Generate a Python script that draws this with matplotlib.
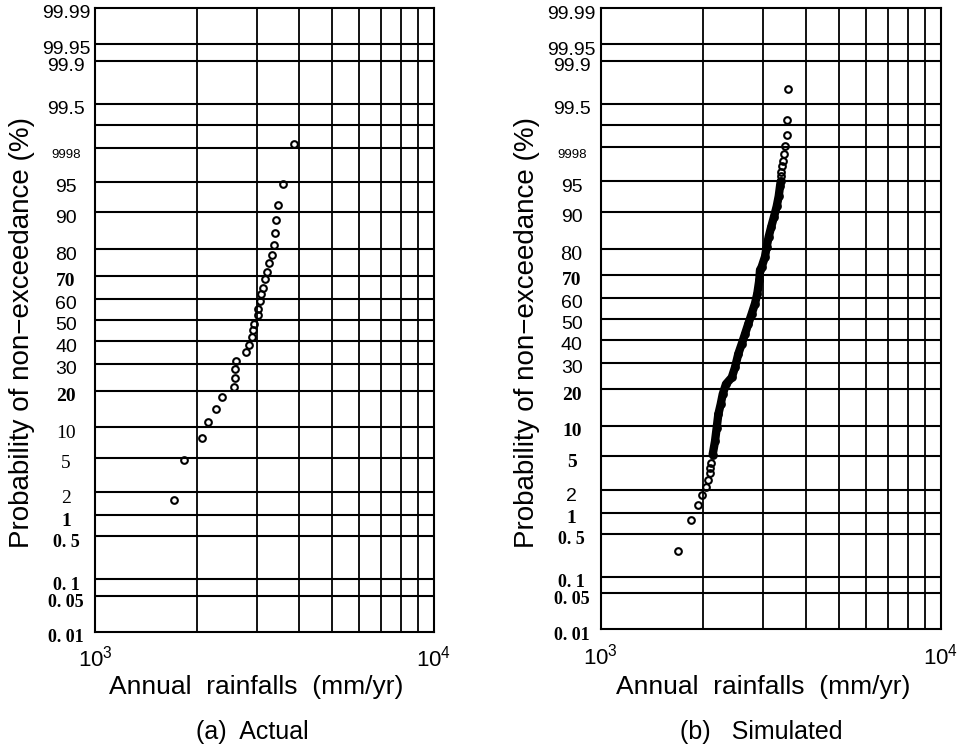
import math
import numpy as np
import matplotlib
matplotlib.use("Agg")
import matplotlib.pyplot as plt
from matplotlib import font_manager
from matplotlib.ticker import NullFormatter
from matplotlib.transforms import ScaledTranslation

# --- data ---
# (a) actual: annual rainfall (mm/yr) vs probability of non-exceedance (%)
actual_rain = [3856, 3578, 3459, 3426, 3403, 3380, 3327, 3253, 3209, 3166,
               3123, 3088, 3066, 3031, 3031, 2944, 2931, 2899, 2852, 2789,
               2606, 2594, 2584, 2570, 2364, 2275, 2159, 2069, 1834, 1710]
actual_prob = [98.2, 94.8, 91.5, 88.3, 84.9, 81.4, 78.2, 75.0, 71.6, 68.6,
               65.0, 62.0, 58.9, 55.4, 52.3, 48.2, 45.1, 41.9, 38.5, 35.3,
               31.4, 27.9, 24.6, 21.1, 18.0, 14.5, 11.1, 7.9, 4.8, 1.6]

# (b) simulated (dense middle part read along the band)
sim_rain = [3558, 3535, 3520, 3487, 3450, 3426, 3410, 3394, 3387,
            3380, 3365, 3335, 3290, 3230, 3171, 3116, 3074, 3039, 2972,
            2938, 2924, 2885, 2840, 2778, 2715, 2655, 2597, 2537, 2481,
            2427, 2334, 2283, 2252, 2216, 2192, 2167, 2133,
            2110, 2100, 2096, 2072, 2039, 1985, 1936, 1839, 1684]
sim_prob = [99.70, 99.14, 98.61, 98.10, 97.6, 97.1, 96.6, 96.1, 95.6,
            95.0, 94.4, 92.9, 91.1, 88.9, 86.5, 83.7, 80.6, 77.1, 73.3,
            72.0, 67.8, 61.8, 57.2, 52.4, 47.6, 42.8, 38.2, 33.7, 28.0,
            24.1, 21.7, 18.3, 15.3, 12.6, 9.6, 7.1, 5.2,
            4.2, 3.7, 3.2, 2.7, 2.2, 1.75, 1.29, 0.80, 0.275]

# probability paper
prob_grid = [99.95, 99.9, 99.5, 99, 98, 95, 90, 80, 70, 60, 50, 40, 30,
             20, 10, 5, 2, 1, 0.5, 0.1, 0.05]
label_probs = [99.99, 99.95, 99.9, 99.5, 98, 95, 90, 80, 70, 60, 50, 40, 30,
               20, 10, 5, 2, 1, 0.5, 0.1, 0.05, 0.01]
label_text = ["99.99", "99.95", "99.9", "99.5", "9998", "95", "90", "80", "70",
              "60", "50", "40", "30", "20", "10", "5", "2", "1",
              "0. 5", "0. 1", "0. 05", "0. 01"]
rain_minor = [2000, 3000, 4000, 5000, 6000, 7000, 8000, 9000]

# the scanned labels mix fonts
left_fonts = ["sans"] * 4 + ["narrow"] + ["sans"] * 3 + ["serifb"] + ["sans"] * 4 + \
             ["serifb", "serif", "serif", "serif", "serifb"] + ["serifbs"] * 4
right_fonts = ["sans"] * 4 + ["narrow"] + ["sans"] * 2 + ["serif80", "serifb"] + ["sans"] * 4 + \
              ["serifb", "serifb", "serifb", "sans", "serifb"] + ["serifbs"] * 4

names = {f.name for f in font_manager.fontManager.ttflist}
narrow = "Liberation Sans Narrow" if "Liberation Sans Narrow" in names else "Liberation Sans"
fonts = {
    "sans": dict(family="Liberation Sans", size=14),
    "narrow": dict(family=narrow, size=11 if narrow != "Liberation Sans" else 9.5, dy=-2),
    "serif": dict(family="Liberation Serif", size=14),
    "serifb": dict(family="Liberation Serif", weight="bold", size=14),
    "serifbs": dict(family="Liberation Serif", weight="bold", size=13),
    "serif80": dict(family="Liberation Serif", size=16),
}

plt.rcParams["font.family"] = "Liberation Sans"
plt.rcParams["mathtext.fontset"] = "custom"
plt.rcParams["mathtext.rm"] = "Liberation Sans"
plt.rcParams["mathtext.it"] = "Liberation Sans:italic"


# inverse normal cdf (Acklam) so the y axis is normal probability paper
A = [-3.969683028665376e+01, 2.209460984245205e+02, -2.759285104469687e+02,
     1.383577518672690e+02, -3.066479806614716e+01, 2.506628277459239e+00]
B = [-5.447609879822406e+01, 1.615858368580409e+02, -1.556989798598866e+02,
     6.680131188771972e+01, -1.328068155288572e+01, 1.0]
C = [-7.784894002430293e-03, -3.223964580411365e-01, -2.400758277161838e+00,
     -2.549732539343734e+00, 4.374664141464968e+00, 2.938163982698783e+00]
D = [7.784695709041462e-03, 3.224671290700398e-01, 2.445134137142996e+00,
     3.754408661907416e+00, 1.0]


def prob_to_z(p):
    q = np.asarray(p, dtype=float)
    shape = q.shape
    q = np.clip(q.ravel() / 100.0, 1e-12, 1 - 1e-12)
    z = np.empty_like(q)
    lo = q < 0.02425
    hi = q > 1 - 0.02425
    mid = ~(lo | hi)
    r = q[mid] - 0.5
    s = r * r
    z[mid] = np.polyval(A, s) * r / np.polyval(B, s)
    t = np.sqrt(-2 * np.log(q[lo]))
    z[lo] = np.polyval(C, t) / np.polyval(D, t)
    t = np.sqrt(-2 * np.log(1 - q[hi]))
    z[hi] = -np.polyval(C, t) / np.polyval(D, t)
    return z.reshape(shape)


_erf = np.vectorize(math.erf)


def z_to_prob(z):
    z = np.asarray(z, dtype=float)
    return 50.0 * (1.0 + _erf(z / math.sqrt(2.0)))


def prob_paper(ax, font_keys):
    ax.set_xscale("log")
    ax.set_yscale("function", functions=(prob_to_z, z_to_prob))
    ax.set_xlim(1000, 10000)
    ax.set_ylim(0.01, 99.99)

    ax.set_yticks(prob_grid)
    ax.set_yticklabels([])
    ax.set_xticks([1000, 10000], labels=[r"$10^3$", r"$10^4$"])
    ax.set_xticks(rain_minor, minor=True)
    ax.xaxis.set_minor_formatter(NullFormatter())
    ax.tick_params(axis="both", which="both", length=0)
    ax.tick_params(axis="x", labelsize=16, pad=10)
    ax.yaxis.grid(True, color="black", lw=1.5)
    ax.xaxis.grid(True, which="minor", color="black", lw=1.3)
    for sp in ax.spines.values():
        sp.set_linewidth(1.5)

    for p, txt, key in zip(label_probs, label_text, font_keys):
        f = dict(fonts[key])
        dy = f.pop("dy", 0)
        off = ScaledTranslation(-29 / 100, (-4 + dy) / 100, ax.figure.dpi_scale_trans)
        ax.text(0, p, txt, transform=ax.get_yaxis_transform() + off,
                ha="center", va="center_baseline", **f)

    ax.set_ylabel("Probability of non\u2212exceedance (%)", fontsize=20, va="center")
    ax.set_xlabel("Annual  rainfalls  (mm/yr)", fontsize=19, va="center")


fig = plt.figure(figsize=(9.57, 7.52), dpi=100)
ax1 = fig.add_axes([0.0993, 0.1596, 0.3542, 0.8298])
ax2 = fig.add_axes([0.6277, 0.1632, 0.3556, 0.8258])

prob_paper(ax1, left_fonts)
ax1.plot(actual_rain, actual_prob, "o", mfc="none", mec="black", ms=4.8, mew=1.5)
ax1.yaxis.set_label_coords(-0.215, 0.48)
ax1.xaxis.set_label_coords(0.476, -0.088)
ax1.text(0.463, -0.160, "(a)  Actual", transform=ax1.transAxes,
         ha="center", va="center", fontsize=18)

prob_paper(ax2, right_fonts)
sx = np.array(sim_rain)
sp_ = np.array(sim_prob)
band = (sp_ >= 5) & (sp_ <= 95.0)
ax2.plot(sx[band], sp_[band], color="black", lw=6,
         solid_capstyle="round", solid_joinstyle="round")
ax2.plot(sx, sp_, "o", mfc="none", mec="black", ms=4.8, mew=1.5)
ax2.yaxis.set_label_coords(-0.2166, 0.478)
ax2.xaxis.set_label_coords(0.478, -0.093)
ax2.text(0.471, -0.165, "(b)   Simulated", transform=ax2.transAxes,
         ha="center", va="center", fontsize=18)

fig.savefig("out.png", dpi=100)
